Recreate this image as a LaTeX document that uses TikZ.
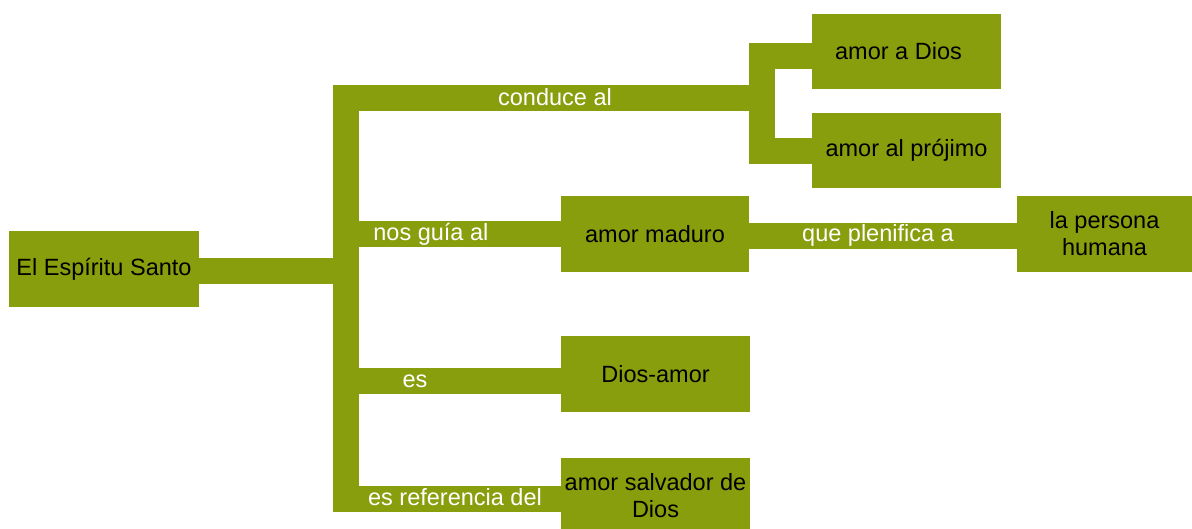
\documentclass[tikz,border=0pt]{standalone}
\usepackage{fontspec}
\setmainfont{Liberation Sans}
\usetikzlibrary{positioning,calc}
\definecolor{leaf}{RGB}{137,158,13}
\newcommand{\mapfont}{\fontsize{11.75pt}{13.5pt}\selectfont}

\begin{document}
\begin{tikzpicture}[x=0.5pt,y=-0.5pt,
		box/.style={fill=leaf,inner sep=0pt,minimum height=38pt,align=center,font=\mapfont},
		bar/.style={draw=leaf,line width=13pt,line join=miter,line cap=butt},
		lab/.style={text=white,inner sep=0pt,font=\mapfont}
		]
		
		\useasboundingbox (0,0) rectangle (1192,529);
		
		% --- concepts
		\node[box,minimum width=95pt] (root) at (104,269) {El Espíritu Santo};
		\node[box,minimum width=94.5pt,minimum height=37.5pt] (dios1) at (906.5,51.5) {amor a Dios\hspace{8pt}};
		\node[box,minimum width=94.5pt,minimum height=37.5pt] (projimo) at (906.5,150.5) {amor al prójimo};
		\node[box,minimum width=94pt] (maduro) at (655,234) {amor maduro};
		\node[box,minimum width=87.5pt] (persona) at (1104.5,234) {la persona\\humana};
		\node[box,minimum width=94.5pt] (diosamor) at (655.5,374) {Dios-amor};
		\node[box,minimum width=94.5pt] (salvador) at (655.5,496) {amor salvador de\\Dios};
		
		% --- junction points
		\coordinate (trunktop) at (346,98);
		\coordinate (trunkbot) at (346,498.5);
		\coordinate (forkA) at (762,56);
		\coordinate (forkB) at (762,151.5);
		
		% --- bars
		\draw[bar] (root.east |- 0,271) -- (trunktop |- 0,271);
		\draw[bar] (trunkbot -| salvador.west) -- (trunkbot) -- (trunktop) -- (trunktop -| forkA);
		\draw[bar] (forkA -| dios1.west) -- (forkA) -- (forkB) -- (forkB -| projimo.west);
		\draw[bar] (trunktop |- maduro.west) -- (maduro.west);
		\draw[bar] (maduro.east |- 0,235.5) -- (persona.west |- 0,235.5);
		\draw[bar] (trunktop |- 0,380.5) -- (diosamor.west |- 0,380.5);
		
		% --- link words
		\node[lab] (l1) at (555,97) {conduce al};
		\node[lab,anchor=west] (l2) at (373,234) {nos guía al};
		\node[lab] (l3) at (415,381) {es};
		\node[lab] (l4) at (455,497) {es referencia del};
		\node[lab] (l5) at (878,235) {que plenifica a};
		
	\end{tikzpicture}
\end{document}
